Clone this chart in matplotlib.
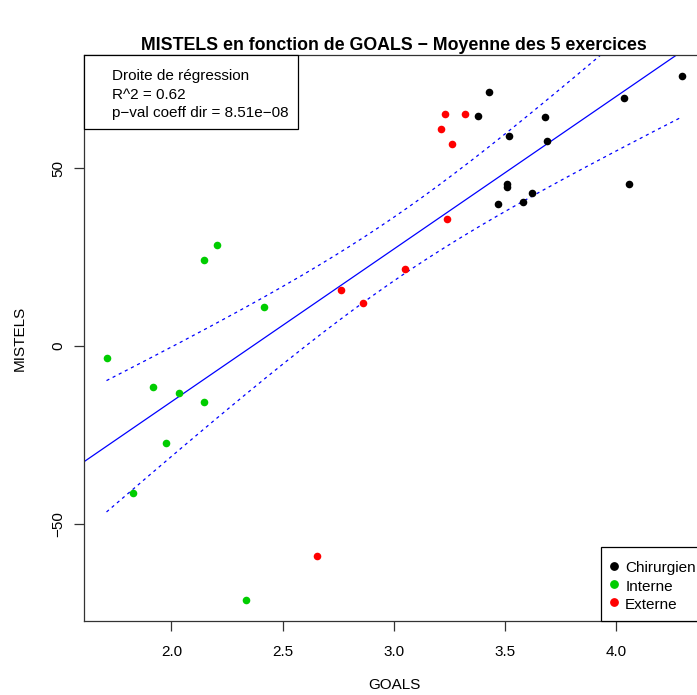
import numpy as np
import matplotlib
matplotlib.use("Agg")
import matplotlib.pyplot as plt
from matplotlib.lines import Line2D

plt.rcParams['font.family'] = ['Liberation Sans', 'DejaVu Sans']

# valeurs (GOALS, MISTELS) par groupe
goals_chir = [3.430, 3.381, 3.680, 3.520, 3.689, 3.510, 3.512, 3.621, 3.471, 3.581, 4.297, 4.038, 4.058]
mistels_chir = [71.4, 64.7, 64.4, 59.2, 57.6, 45.5, 44.8, 43.1, 39.9, 40.5, 76.0, 69.8, 45.5]

goals_ext = [3.231, 3.321, 3.212, 3.262, 3.240, 3.052, 2.763, 2.863, 2.653]
mistels_ext = [65.3, 65.3, 61.0, 56.9, 35.8, 21.6, 15.9, 12.2, -58.9]

goals_int = [2.206, 2.146, 2.415, 1.708, 1.917, 2.035, 2.146, 1.977, 1.828, 2.335]
mistels_int = [28.5, 24.3, 11.0, -3.4, -11.6, -13.2, -15.7, -27.3, -41.3, -71.4]

groupes = ["Chirurgien", "Interne", "Externe"]
couleurs = ["black", "#00CD00", "#FF0000"]

texte_reg = ["Droite de régression", "R^2 = 0.62", "p\u2212val coeff dir = 8.51e\u221208"]
T_975 = 2.04  # quantile t pour l'intervalle de confiance 95%

x = np.array(goals_chir + goals_int + goals_ext)
y = np.array(mistels_chir + mistels_int + mistels_ext)

# regression lineaire + intervalle de confiance
pente, orig = np.polyfit(x, y, 1)
n = len(x)
resid = y - (orig + pente * x)
s = np.sqrt(np.sum(resid ** 2) / (n - 2))
sxx = np.sum((x - x.mean()) ** 2)
xg = np.linspace(x.min(), x.max(), 200)
yg = orig + pente * xg
demi = T_975 * s * np.sqrt(1 / n + (xg - x.mean()) ** 2 / sxx)

fig = plt.figure(figsize=(6.97, 6.95), dpi=100)
L, R, B, T = 83.5 / 697, 705 / 697, (695 - 621) / 695, (695 - 55) / 695
ax = fig.add_axes([L, B, R - L, T - B])

ax.scatter(goals_chir, mistels_chir, s=30, c=couleurs[0], linewidths=0, zorder=3)
ax.scatter(goals_int, mistels_int, s=30, c=couleurs[1], linewidths=0, zorder=3)
ax.scatter(goals_ext, mistels_ext, s=30, c=couleurs[2], linewidths=0, zorder=3)

ax.axline((0, orig), slope=pente, color="blue", lw=0.9, zorder=2)
ax.plot(xg, yg + demi, color="blue", lw=0.9, ls=(0, (2.5, 3)), zorder=2)
ax.plot(xg, yg - demi, color="blue", lw=0.9, ls=(0, (2.5, 3)), zorder=2)

rx = x.max() - x.min()
ry = y.max() - y.min()
ax.set_xlim(x.min() - 0.04 * rx, x.max() + 0.04 * rx)
ax.set_ylim(y.min() - 0.04 * ry, y.max() + 0.04 * ry)

ax.set_xticks([2.0, 2.5, 3.0, 3.5, 4.0])
ax.set_xticklabels(["2.0", "2.5", "3.0", "3.5", "4.0"])
ax.set_yticks([-50, 0, 50])
ax.set_yticklabels(["\u221250", "0", "50"], rotation=90, va="center")
ax.tick_params(length=7, width=0.9, labelsize=11, color="#333333")
ax.tick_params(axis="x", pad=10)
ax.tick_params(axis="y", pad=6)
for sp in ax.spines.values():
    sp.set_linewidth(0.9)
    sp.set_color("#333333")

ax.set_xlabel("GOALS", fontsize=11)
ax.set_ylabel("MISTELS", fontsize=11)
ax.xaxis.label.set_va("center")
ax.yaxis.label.set_va("center")
ax.xaxis.set_label_coords(0.5, (621 - 685) / 566)
ax.yaxis.set_label_coords((20 - 83.5) / 621.5, 0.5)

fig.text((L + R) / 2, (695 - 46) / 695,
         "MISTELS en fonction de GOALS \u2212 Moyenne des 5 exercices",
         ha="center", va="center", fontsize=12.8, fontweight="bold")

# titre vide : un peu d'espace en haut de la boite, comme dans R
opts = dict(borderaxespad=0, borderpad=0.6, labelspacing=0.15, handleheight=1.2,
            fontsize=11, fancybox=False, framealpha=1, edgecolor="black",
            title=" ", title_fontsize=0.5)

poignees = [Line2D([], [], ls="none", marker="o", ms=5.3, mfc=c, mec=c) for c in couleurs]
leg1 = ax.legend(poignees, groupes, loc="lower right", handlelength=0.61,
                 handletextpad=0.4, **opts)
leg1.get_frame().set_linewidth(0.9)
ax.add_artist(leg1)

vides = [Line2D([], [], ls="none") for _ in texte_reg]
leg2 = ax.legend(vides, texte_reg, loc="upper left", handlelength=0.8,
                 handletextpad=0.47, **opts)
leg2.get_frame().set_linewidth(0.9)

fig.savefig("out.png", dpi=100)
